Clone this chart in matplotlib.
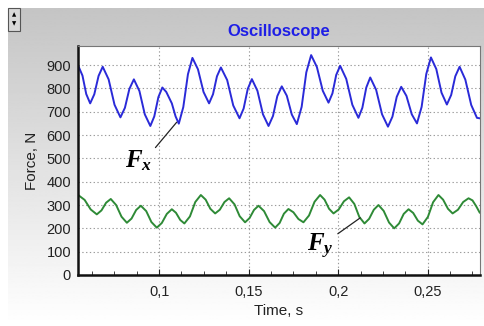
import matplotlib
matplotlib.use('Agg')
import matplotlib.pyplot as plt
from matplotlib.patches import Rectangle
import numpy as np

plt.rcParams['font.family'] = ['Liberation Sans', 'DejaVu Sans']
plt.rcParams['mathtext.fontset'] = 'custom'
plt.rcParams['mathtext.it'] = 'Liberation Serif:italic:bold'
plt.rcParams['mathtext.rm'] = 'Liberation Serif:bold'

# blue trace, Fx (time s, force N)
fx_t = [0.0548, 0.0572, 0.0593, 0.0615, 0.0638, 0.0662, 0.0685, 0.0718, 0.0751, 0.0784,
        0.0809, 0.0834, 0.0859, 0.0890, 0.0920, 0.0951, 0.0973, 0.0996, 0.1018, 0.1040,
        0.1071, 0.1092, 0.1110, 0.1135, 0.1161, 0.1186, 0.1217, 0.1248, 0.1279, 0.1301,
        0.1323, 0.1345, 0.1380, 0.1414, 0.1449, 0.1472, 0.1495, 0.1518, 0.1549, 0.1580,
        0.1611, 0.1636, 0.1660, 0.1685, 0.1713, 0.1741, 0.1769, 0.1796, 0.1822, 0.1849,
        0.1881, 0.1914, 0.1946, 0.1968, 0.1989, 0.2011, 0.2045, 0.2079, 0.2113, 0.2135,
        0.2157, 0.2179, 0.2212, 0.2245, 0.2278, 0.2303, 0.2327, 0.2352, 0.2381, 0.2411,
        0.2440, 0.2466, 0.2492, 0.2518, 0.2548, 0.2577, 0.2607, 0.2631, 0.2654, 0.2678,
        0.2710, 0.2743, 0.2775, 0.2790]
fx_v = [898, 855, 776, 736, 775, 854, 893, 839, 730, 676,
        717, 798, 839, 789, 689, 639, 680, 763, 804, 785,
        736, 680, 649, 720, 861, 931, 882, 785, 736, 775,
        852, 890, 836, 727, 672, 714, 798, 840, 790, 689,
        639, 682, 767, 809, 769, 688, 647, 721, 869, 943,
        892, 790, 739, 779, 858, 897, 841, 730, 674, 717,
        804, 847, 794, 689, 636, 679, 764, 807, 768, 689,
        650, 721, 862, 933, 883, 782, 731, 772, 852, 893,
        838, 729, 674, 672]

# green trace, Fy
fy_t = [0.0548, 0.0584, 0.0618, 0.0652, 0.0678, 0.0704, 0.0730, 0.0760, 0.0790, 0.0820,
        0.0846, 0.0872, 0.0898, 0.0928, 0.0957, 0.0987, 0.1015, 0.1043, 0.1071, 0.1094,
        0.1118, 0.1141, 0.1172, 0.1202, 0.1233, 0.1260, 0.1286, 0.1313, 0.1339, 0.1365,
        0.1391, 0.1421, 0.1450, 0.1480, 0.1505, 0.1530, 0.1555, 0.1586, 0.1617, 0.1648,
        0.1673, 0.1697, 0.1722, 0.1750, 0.1778, 0.1806, 0.1837, 0.1868, 0.1899, 0.1924,
        0.1949, 0.1974, 0.2003, 0.2032, 0.2061, 0.2090, 0.2118, 0.2147, 0.2173, 0.2199,
        0.2225, 0.2254, 0.2284, 0.2313, 0.2340, 0.2366, 0.2393, 0.2419, 0.2445, 0.2471,
        0.2501, 0.2530, 0.2560, 0.2586, 0.2613, 0.2639, 0.2669, 0.2698, 0.2728, 0.2750,
        0.2770, 0.2790]
fy_v = [343, 322, 281, 260, 277, 310, 326, 300, 250, 224,
        242, 279, 297, 274, 227, 203, 223, 262, 282, 267,
        236, 221, 251, 313, 343, 323, 284, 264, 280, 313,
        329, 303, 252, 226, 244, 279, 297, 274, 227, 203,
        223, 263, 283, 269, 240, 226, 255, 314, 343, 323,
        284, 264, 281, 316, 333, 305, 249, 221, 241, 280,
        300, 275, 225, 200, 221, 262, 282, 266, 233, 217,
        249, 312, 343, 323, 284, 264, 280, 313, 329, 320,
        296, 268]

xticks = [0.1, 0.15, 0.2, 0.25]
xticklabels = ['0,1', '0,15', '0,2', '0,25']
yticks = [0, 100, 200, 300, 400, 500, 600, 700, 800, 900]

fig = plt.figure(figsize=(4.85, 3.26), dpi=100)
fig.patch.set_facecolor('white')

# gray gradient panel behind the chart
bg = fig.add_axes([8 / 485, 0, 1 - 8 / 485, 1 - 8 / 326], zorder=-5)
grad = np.linspace(0.77, 1.0, 256).reshape(-1, 1)
bg.imshow(grad, aspect='auto', cmap='gray', vmin=0, vmax=1, extent=[0, 1, 0, 1], origin='upper')
bg.set_axis_off()

# little spinner box at top left
fig.patches.append(Rectangle((8 / 485, 1 - 31 / 326), 12 / 485, 23 / 326, transform=fig.transFigure,
                             facecolor='#d8d8d8', edgecolor='#555555', lw=0.8))
fig.text(14 / 485, 1 - 15 / 326, '\u25b2', fontsize=4, ha='center', va='center', family='DejaVu Sans')
fig.text(14 / 485, 1 - 24 / 326, '\u25bc', fontsize=4, ha='center', va='center', family='DejaVu Sans')

ax = fig.add_axes([78 / 485, 51 / 326, 402 / 485, 229 / 326])
ax.set_facecolor('white')
ax.plot(fx_t, fx_v, color='#2a2ad8', lw=1.4, solid_joinstyle='round')
ax.plot(fy_t, fy_v, color='#2e8a36', lw=1.4, solid_joinstyle='round')

ax.set_xlim(0.0547, 0.2792)
ax.set_ylim(0, 982)
ax.set_xticks(xticks)
ax.set_xticklabels(xticklabels)
ax.set_xticks(np.arange(0.0625, 0.279, 0.0125), minor=True)
ax.set_yticks(yticks)
ax.tick_params(axis='x', which='major', direction='in', length=4, pad=7, labelsize=10.5, colors='#222222')
ax.tick_params(axis='x', which='minor', direction='in', length=3, color='#222222')
ax.tick_params(axis='y', length=0, pad=5, labelsize=10.5, colors='#222222')
ax.grid(True, which='major', color='#9a9a9a', linestyle=(0, (1.2, 2.2)), lw=0.8)

for s in ['left', 'bottom']:
    ax.spines[s].set_linewidth(1.8)
    ax.spines[s].set_color('#111111')
for s in ['top', 'right']:
    ax.spines[s].set_linewidth(0.8)
    ax.spines[s].set_color('#777777')

ax.set_title('Oscilloscope', color='#1f1fe6', fontsize=12, fontweight='bold', pad=7)
ax.set_xlabel('Time, s', fontsize=11, color='#222222', labelpad=4)
ax.set_ylabel('Force, N', fontsize=11, color='#222222', labelpad=5)

ax.annotate(r'$F_x$', xy=(0.1098, 655), xytext=(0.0808, 462), fontsize=18, ha='left', va='baseline',
            arrowprops=dict(arrowstyle='-', color='#222222', lw=0.9, relpos=(1.0, 0.85), shrinkA=1, shrinkB=0))
ax.annotate(r'$F_y$', xy=(0.2123, 245), xytext=(0.1828, 100), fontsize=18, ha='left', va='baseline',
            arrowprops=dict(arrowstyle='-', color='#222222', lw=0.9, relpos=(1.0, 0.85), shrinkA=1, shrinkB=0))

fig.savefig('out.png', dpi=100)
